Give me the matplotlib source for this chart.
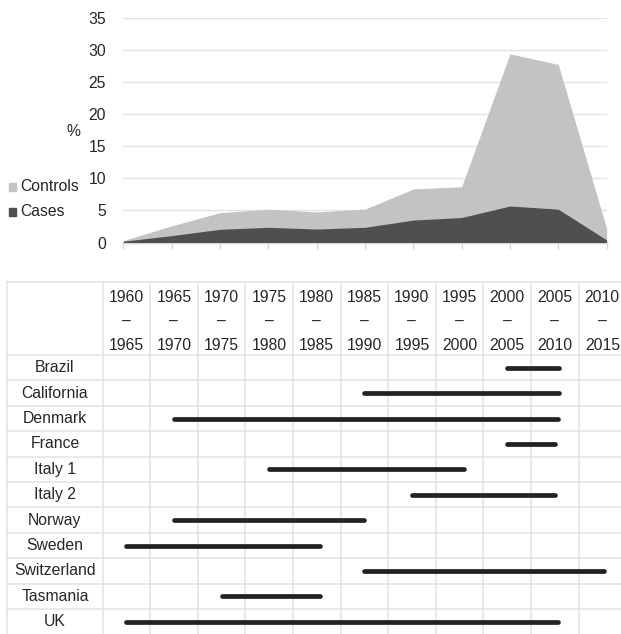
import matplotlib
matplotlib.use("Agg")
import matplotlib.pyplot as plt
from matplotlib.patches import Rectangle

plt.rcParams['font.family'] = ['Liberation Sans', 'DejaVu Sans']

# ---------------- data ----------------
periods = ["1960", "1965", "1970", "1975", "1980", "1985",
           "1990", "1995", "2000", "2005", "2010"]
period_ends = ["1965", "1970", "1975", "1980", "1985", "1990",
               "1995", "2000", "2005", "2010", "2015"]
controls = [0.3, 2.6, 4.65, 5.2, 4.77, 5.2, 8.36, 8.7, 29.45, 27.8, 2.2]
cases = [0.2, 1.07, 2.06, 2.37, 2.1, 2.37, 3.5, 3.9, 5.7, 5.2, 0.4]
y_ticks = [0, 5, 10, 15, 20, 25, 30, 35]

studies = ["Brazil", "California", "Denmark", "France", "Italy 1", "Italy 2",
           "Norway", "Sweden", "Switzerland", "Tasmania", "UK"]
study_start = [2000, 1985, 1965, 2000, 1975, 1990, 1965, 1960, 1985, 1970, 1960]
study_end = [2005.5, 2005.5, 2005.3, 2005.0, 1995.5, 2005.0, 1985.0, 1980.3,
             2010.2, 1980.3, 2005.3]

# ---------------- figure ----------------
W, H = 621, 634
fig = plt.figure(figsize=(W / 100, H / 100), dpi=100)

def px_box(x0, y0, x1, y1):
    """pixel box (top-left origin) -> figure fraction [l, b, w, h]"""
    return [x0 / W, 1 - y1 / H, (x1 - x0) / W, (y1 - y0) / H]

TXT = '#262626'
GRID = '#e3e3e3'
FS = 11.3

# ---------------- top area chart ----------------
ax = fig.add_axes(px_box(123.3, 18.3, 606.6, 242.5))
x = list(range(len(controls)))
ax.fill_between(x, 0, controls, color='#c3c3c3', linewidth=0, zorder=2)
ax.fill_between(x, 0, cases, color='#4f4f4f', linewidth=0, zorder=3)
ax.set_xlim(0, len(controls) - 1)
ax.set_ylim(0, 35)
ax.set_yticks(y_ticks)
ax.set_yticklabels([str(v) for v in y_ticks], fontsize=FS, color=TXT)
ax.tick_params(axis='y', length=0, pad=12.5)
ax.set_xticks(x)
ax.set_xticklabels([])
ax.tick_params(axis='x', length=4, width=1, color='#d6d6d6', direction='out')
ax.grid(axis='y', color=GRID, linewidth=1.0, zorder=0)
ax.set_axisbelow(True)
for s in ['top', 'right', 'left']:
    ax.spines[s].set_visible(False)
ax.spines['bottom'].set_color('#d6d6d6')
ax.spines['bottom'].set_linewidth(1.0)

fig.text(73 / W, 1 - 131 / H, "%", fontsize=FS, color=TXT, ha='center', va='center')

# legend (manual)
for yy, lab, col in [(187, "Controls", '#c3c3c3'), (212, "Cases", '#4f4f4f')]:
    fig.patches.append(Rectangle((9 / W, 1 - (yy + 3.5) / H), 7 / W, 7 / H,
                                 transform=fig.transFigure, color=col, figure=fig))
    fig.text(20 / W, 1 - yy / H, lab, fontsize=FS, color=TXT, ha='left', va='center')

# ---------------- bottom table ----------------
n_rows = len(studies)
row_px = 25.4
col_px = 47.6
header_rows = (355 - 281.7) / row_px
tx0 = 7.3
tx1 = tx0 + col_px * (2 + len(periods))
ty0 = 281.7
ty1 = 355 + row_px * n_rows
tab = fig.add_axes(px_box(tx0, ty0, tx1, ty1))
tab.set_xlim(-2.5, len(periods) - 0.5)
tab.set_ylim(n_rows - 0.5, -0.5 - header_rows)
tab.axis('off')

# grid lines (bottom edge is cut off in the reference)
hl = [-0.5 - header_rows] + [i - 0.5 for i in range(n_rows)]
for yv in hl:
    tab.axhline(yv, color=GRID, linewidth=1.1, zorder=1, clip_on=False)
vl = [-2.5] + [i - 0.5 for i in range(len(periods) + 1)]
for xv in vl:
    tab.axvline(xv, color=GRID, linewidth=1.1, zorder=1, clip_on=False)

# header
for i, (a, b) in enumerate(zip(periods, period_ends)):
    for ypx, s in [(297, a), (321.5, "\u2013"), (345, b)]:
        yv = (ypx - 355) / row_px - 0.5
        tab.text(i, yv, s, fontsize=FS, color=TXT, ha='center', va='center')

# rows
for r, name in enumerate(studies):
    tab.text(-1.5, r, name, fontsize=FS, color=TXT, ha='center', va='center')
    x0 = (study_start[r] - 1960) / 5
    x1 = (study_end[r] - 1960) / 5
    tab.plot([x0, x1], [r, r], color='#222222', linewidth=3.4,
             solid_capstyle='round', zorder=3)

fig.savefig("out.png", dpi=100)
